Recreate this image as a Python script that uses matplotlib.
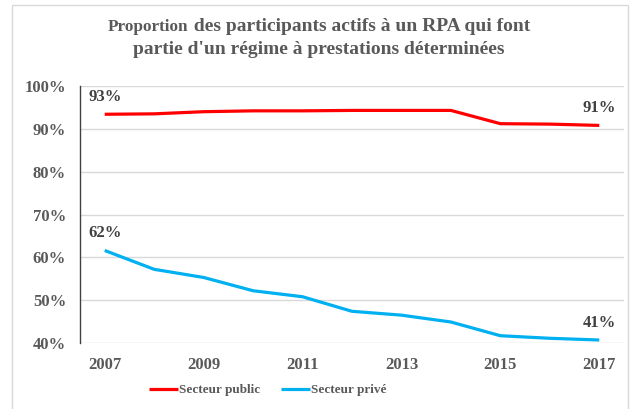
import matplotlib.pyplot as plt
from matplotlib.patches import Rectangle

years = [2007, 2008, 2009, 2010, 2011, 2012, 2013, 2014, 2015, 2016, 2017]
public = [93.4, 93.5, 94.0, 94.2, 94.2, 94.3, 94.3, 94.3, 91.2, 91.1, 90.8]
private = [61.6, 57.2, 55.3, 52.2, 50.8, 47.4, 46.5, 44.9, 41.7, 41.1, 40.7]
xticks = [2007, 2009, 2011, 2013, 2015, 2017]
yticks = [40, 50, 60, 70, 80, 90, 100]

plt.rcParams['font.family'] = ['Liberation Serif', 'DejaVu Serif']
plt.rcParams['font.weight'] = 'bold'
gray = '#595959'

fig = plt.figure(figsize=(6.38, 4.09), dpi=100)
fig.patches.append(Rectangle((12 / 638, -0.05), 616 / 638, 1.05 - 5 / 409,
                             transform=fig.transFigure, fill=False,
                             edgecolor='#d9d9d9', linewidth=1))
ax = fig.add_axes([80 / 638, 1 - 343 / 409, 544 / 638, 257 / 409])

l1, = ax.plot(years, public, color='#ff0000', linewidth=2.3, solid_capstyle='butt')
l2, = ax.plot(years, private, color='#00b0f0', linewidth=2.3, solid_capstyle='butt')

ax.set_xlim(2006.5, 2017.5)
ax.set_ylim(40, 100)
ax.set_xticks(xticks)
ax.set_yticks(yticks)
ax.set_yticklabels([f'{v}%' for v in yticks])
ax.tick_params(length=0, labelsize=12, labelcolor=gray)
ax.tick_params(axis='x', pad=10)
ax.tick_params(axis='y', pad=10)
ax.grid(axis='y', color='#d9d9d9', linewidth=1)
ax.set_axisbelow(True)
for s in ['top', 'right', 'bottom']:
    ax.spines[s].set_visible(False)
ax.spines['left'].set_color('#404040')
ax.spines['left'].set_linewidth(1)

lab = '#404040'
for txt, x, y in [('93%', years[0], public[0]), ('62%', years[0], private[0]),
                  ('91%', years[-1], public[-1]), ('41%', years[-1], private[-1])]:
    ax.annotate(txt, (x, y), xytext=(0, 12.5), textcoords='offset points',
                ha='center', va='center', fontsize=12, color=lab)

# title: first word slightly smaller
fig.canvas.draw()
r = fig.canvas.get_renderer()
t_a = fig.text(0, 1 - 31 / 409, 'Proportion', fontsize=12.3, color=gray, va='baseline')
t_b = fig.text(0, 1 - 31 / 409, ' des participants actifs à un RPA qui font', fontsize=14,
               color=gray, va='baseline')
wa = t_a.get_window_extent(r).width / 638
wb = t_b.get_window_extent(r).width / 638
x0 = 319 / 638 - (wa + wb) / 2
t_a.set_x(x0)
t_b.set_x(x0 + wa)
fig.text(319 / 638, 1 - 54 / 409, "partie d'un régime à prestations déterminées", fontsize=14,
         color=gray, ha='center', va='baseline')

fig.legend([l1, l2], ['Secteur public', 'Secteur privé'], loc='center',
           bbox_to_anchor=(268 / 638, 1 - 390 / 409), ncol=2, frameon=False,
           fontsize=9.5, labelcolor=gray, handlelength=2.2, handletextpad=0.05,
           columnspacing=1.6)

fig.savefig('out.png', dpi=100)
